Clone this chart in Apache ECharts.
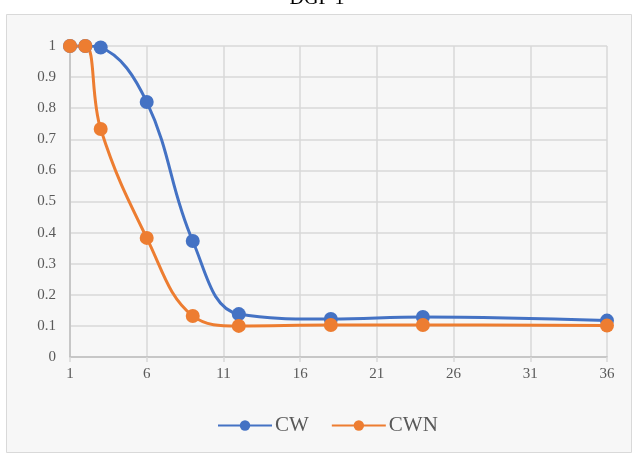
<!DOCTYPE html>
<html><head><meta charset="utf-8">
<script src="https://cdn.jsdelivr.net/npm/echarts@6/dist/echarts.min.js"></script>
<style>html,body{margin:0;padding:0;background:#fff}#c{width:634px;height:456px}</style>
</head><body><div id="c"></div>
<script>
const xValues = [1, 2, 3, 6, 9, 12, 18, 24, 36];
const cwValues = [1, 1, 0.995, 0.82, 0.373, 0.138, 0.122, 0.129, 0.117];
const cwnValues = [1, 1, 0.733, 0.383, 0.132, 0.1, 0.103, 0.103, 0.101];
const seriesNames = ['CW', 'CWN'];
const titleText = 'DGP 1';

const font = 'Liberation Serif';
const chart = echarts.init(document.getElementById('c'));
const pair = (xs, ys) => xs.map((x, i) => [x, ys[i]]);
chart.setOption({
  animation: false,
  title: {text: titleText, left: 'center', top: -16, textStyle: {fontFamily: font, fontSize: 20, fontWeight: 'normal', color: '#000'}},
  graphic: [{type: 'rect', z: -10, shape: {x: 6.5, y: 14.5, width: 625, height: 438}, style: {fill: '#f7f7f7', stroke: '#d9d9d9', lineWidth: 1}}],
  grid: {left: 70, right: 27, top: 46, bottom: 99},
  legend: {top: 410, left: 212, itemWidth: 54, itemHeight: 13, itemGap: 22,
    textStyle: {fontFamily: font, fontSize: 21, color: '#595959', padding: [0, 0, 0, -2]}},
  xAxis: {type: 'value', min: 1, max: 36, interval: 5,
    axisLine: {show: true, lineStyle: {color: '#bfbfbf', width: 1.5}},
    axisTick: {show: true, length: 5, lineStyle: {color: '#d9d9d9', width: 1.5}},
    splitLine: {show: true, lineStyle: {color: '#d9d9d9', width: 1.5}},
    axisLabel: {fontFamily: font, fontSize: 15, color: '#595959', margin: 10}},
  yAxis: {type: 'value', min: 0, max: 1, interval: 0.1,
    axisLine: {show: true, lineStyle: {color: '#bfbfbf', width: 1.5}},
    axisTick: {show: false},
    splitLine: {show: true, lineStyle: {color: '#d9d9d9', width: 1.5}},
    axisLabel: {fontFamily: font, fontSize: 15, color: '#595959', margin: 14,
      formatter: v => String(+v.toFixed(1))}},
  series: [
    {name: seriesNames[0], type: 'line', smooth: 0.4, data: pair(xValues, cwValues),
      symbol: 'circle', symbolSize: 14, color: '#4472C4', lineStyle: {width: 3}},
    {name: seriesNames[1], type: 'line', smooth: 0.4, data: pair(xValues, cwnValues),
      symbol: 'circle', symbolSize: 14, color: '#ED7D31', lineStyle: {width: 3}}
  ]
});
</script></body></html>
